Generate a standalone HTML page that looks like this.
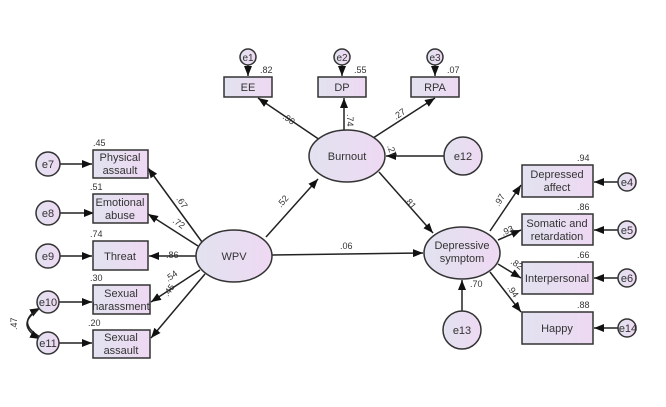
<!DOCTYPE html>
<html><head><style>body{margin:0;background:#fff}svg{display:block}text{font-family:"Liberation Sans",sans-serif;fill:#333}</style></head><body>
<svg width="666" height="407" viewBox="0 0 666 407" xmlns="http://www.w3.org/2000/svg">
<defs>
<linearGradient id="g" x1="0" x2="1" y1="0" y2="0"><stop offset="0" stop-color="#e2e2f0"/><stop offset="1" stop-color="#eed9f2"/></linearGradient>
<marker id="a" markerWidth="10" markerHeight="8" refX="10" refY="4" orient="auto" markerUnits="userSpaceOnUse"><path d="M0,0 L10,4 L0,8z" fill="#111"/></marker>
</defs>
<g stroke="#222" stroke-width="1.5" fill="none" marker-end="url(#a)">
<!-- burnout indicators -->
<line x1="320" y1="140" x2="258" y2="98"/>
<line x1="344" y1="130" x2="344" y2="98"/>
<line x1="370" y1="140" x2="435" y2="98"/>
<line x1="444" y1="156" x2="386" y2="156"/>
<line x1="248" y1="65" x2="248" y2="76"/>
<line x1="342" y1="65" x2="342" y2="76"/>
<line x1="435" y1="65" x2="435" y2="76"/>
<!-- structural -->
<line x1="266" y1="237" x2="318" y2="179"/>
<line x1="272" y1="255" x2="423" y2="253"/>
<line x1="379" y1="172" x2="433" y2="233"/>
<line x1="462" y1="311" x2="462" y2="280"/>
<!-- WPV indicators -->
<line x1="202" y1="242" x2="148" y2="168"/>
<line x1="198" y1="246" x2="148" y2="214"/>
<line x1="196" y1="256" x2="149" y2="256"/>
<line x1="200" y1="270" x2="151" y2="302"/>
<line x1="205" y1="274" x2="151" y2="338"/>
<line x1="60" y1="164" x2="92" y2="164"/>
<line x1="60" y1="213" x2="94" y2="213"/>
<line x1="60" y1="256" x2="92" y2="256"/>
<line x1="59" y1="302" x2="92" y2="302"/>
<line x1="59" y1="343" x2="92" y2="343"/>
<path d="M40,337 Q15,322 40,308"/>
<path d="M38,310 Q15,325 40,339"/>
<!-- Dep indicators -->
<line x1="490" y1="231" x2="521" y2="185"/>
<line x1="498" y1="240" x2="521" y2="230"/>
<line x1="498" y1="264" x2="521" y2="278"/>
<line x1="490" y1="272" x2="521" y2="312"/>
<line x1="619" y1="182" x2="594" y2="182"/>
<line x1="619" y1="230" x2="594" y2="230"/>
<line x1="619" y1="278" x2="594" y2="278"/>
<line x1="619" y1="328" x2="594" y2="328"/>
</g>
<g stroke="#333" stroke-width="1.5" fill="url(#g)">
<rect x="224" y="77" width="48" height="20"/><rect x="318" y="77" width="48" height="20"/><rect x="411" y="77" width="48" height="20"/>
<rect x="93" y="150" width="55" height="28"/><rect x="93" y="194" width="55" height="29"/><rect x="93" y="241" width="55" height="29"/><rect x="93" y="285" width="57" height="29"/><rect x="93" y="330" width="57" height="28"/>
<rect x="522" y="165" width="71" height="32"/><rect x="522" y="214" width="71" height="31"/><rect x="522" y="262" width="71" height="32"/><rect x="522" y="312" width="71" height="32"/>
<ellipse cx="347" cy="156" rx="38" ry="26"/><ellipse cx="234" cy="256" rx="38" ry="26"/><ellipse cx="462" cy="253" rx="38" ry="26"/>
<circle cx="463" cy="156" r="19"/><circle cx="462" cy="330" r="19"/>
<circle cx="248" cy="57" r="8"/><circle cx="342" cy="57" r="8"/><circle cx="435" cy="57" r="8"/>
<circle cx="48" cy="164" r="12"/><circle cx="48" cy="213" r="12"/><circle cx="48" cy="256" r="12"/><circle cx="48" cy="302" r="11"/><circle cx="48" cy="343" r="11"/>
<circle cx="627" cy="182" r="9"/><circle cx="627" cy="230" r="9"/><circle cx="627" cy="278" r="9"/><circle cx="627" cy="328" r="9"/>
</g>
<g font-size="11" text-anchor="middle">
<text x="248" y="91">EE</text><text x="342" y="91">DP</text><text x="435" y="91">RPA</text>
<text x="248" y="61" font-size="10">e1</text><text x="342" y="61" font-size="10">e2</text><text x="435" y="61" font-size="10">e3</text>
<text x="347" y="160">Burnout</text><text x="234" y="260">WPV</text>
<text x="462" y="249">Depressive</text><text x="462" y="262">symptom</text>
<text x="463" y="160">e12</text><text x="462" y="334">e13</text>
<text x="120" y="161">Physical</text><text x="120" y="174">assault</text>
<text x="120" y="206">Emotional</text><text x="120" y="219">abuse</text>
<text x="120" y="260">Threat</text>
<text x="121" y="297">Sexual</text><text x="121" y="310">harassment</text>
<text x="121" y="341">Sexual</text><text x="121" y="354">assault</text>
<text x="48" y="168">e7</text><text x="48" y="217">e8</text><text x="48" y="260">e9</text><text x="48" y="306">e10</text><text x="48" y="347">e11</text>
<text x="557" y="178">Depressed</text><text x="557" y="191">affect</text>
<text x="557" y="227">Somatic and</text><text x="557" y="240">retardation</text>
<text x="557" y="282">Interpersonal</text><text x="557" y="332">Happy</text>
<text x="627" y="186">e4</text><text x="627" y="234">e5</text><text x="627" y="282">e6</text><text x="628" y="332">e14</text>
</g>
<g font-size="9">
<text x="260" y="73">.82</text><text x="354" y="73">.55</text><text x="447" y="73">.07</text>
<text x="93" y="146">.45</text><text x="90" y="190">.51</text><text x="90" y="237">.74</text><text x="90" y="281">.30</text><text x="88" y="326">.20</text>
<text x="577" y="161">.94</text><text x="577" y="210">.86</text><text x="577" y="258">.66</text><text x="577" y="308">.88</text>
<text x="166" y="258">.86</text><text x="340" y="249">.06</text><text x="470" y="287">.70</text>
<text transform="translate(282,118) rotate(35)">.90</text>
<text transform="translate(347,114) rotate(90)">.74</text>
<text transform="translate(396,120) rotate(-35)">.27</text>
<text transform="translate(387,146) rotate(70)">.27</text>
<text transform="translate(281,208) rotate(-50)">.52</text>
<text transform="translate(404,200) rotate(50)">.81</text>
<text transform="translate(176,199) rotate(55)">.67</text>
<text transform="translate(172,222) rotate(35)">.72</text>
<text transform="translate(168,282) rotate(-35)">.54</text>
<text transform="translate(168,297) rotate(-55)">.45</text>
<text transform="translate(17,330) rotate(-90)">.47</text>
<text transform="translate(499,207) rotate(-60)">.97</text>
<text transform="translate(503,236) rotate(-25)">.93</text>
<text transform="translate(510,263) rotate(35)">.82</text>
<text transform="translate(507,288) rotate(55)">.94</text>
</g>
</svg>
</body></html>
